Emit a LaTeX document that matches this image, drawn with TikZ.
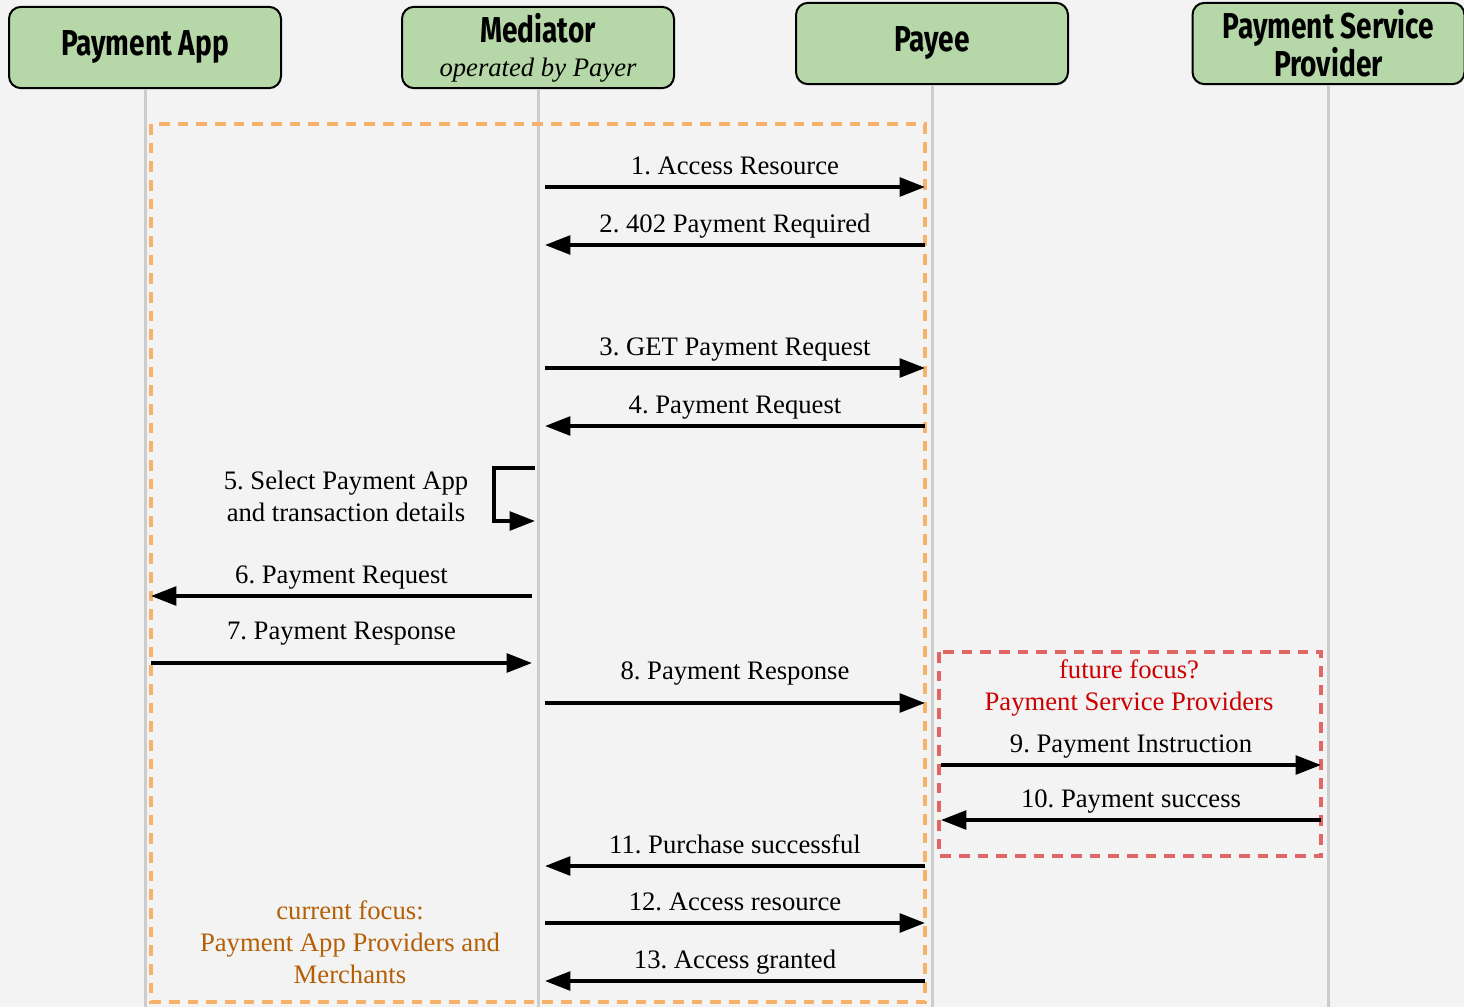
\documentclass[tikz,border=0pt]{standalone}
\usepackage{fontspec}
\usepackage{xcolor}
\setmainfont{Liberation Serif}
\newfontfamily\headfont[FakeStretch=0.78]{Fira Sans}
\usetikzlibrary{arrows.meta}
\frenchspacing

\definecolor{bggray}{HTML}{F3F3F3}
\definecolor{actorgreen}{HTML}{B6D7A8}
\definecolor{lifegray}{HTML}{CCCCCC}
\definecolor{noworange}{HTML}{F6B26B}
\definecolor{nowtext}{HTML}{B45F06}
\definecolor{laterred}{HTML}{E06666}
\definecolor{latertext}{HTML}{CC0000}

\begin{document}
\begin{tikzpicture}[x=0.75pt, y=-0.75pt,
      actor/.style={
        draw,
        line width=1.5pt,
        rounded corners=9pt,
        fill=actorgreen,
        minimum width=204pt,
        minimum height=61pt,
        align=center,
        font=\headfont\bfseries\fontsize{27}{28.5}\selectfont
      },
      lifeline/.style={
        draw=lifegray,
        line width=2.25pt
      },
      msg/.style={
        line width=2.7pt,
        -{Triangle[length=19pt, width=14pt]}
      },
      lbl/.style={
        above,
        inner sep=4pt,
        text height=13pt,
        text depth=4pt,
        font=\fontsize{20}{24}\selectfont
      },
      focus/.style={
        line width=2.7pt,
        dash pattern=on 8pt off 6pt
      },
      note/.style={
        align=center,
        font=\fontsize{20}{24}\selectfont
      }
      ]
        \useasboundingbox (0,0) rectangle (1464,1007);
        \fill[bggray] (0,0) rectangle (1464,1007);
        \coordinate (bottom) at (0,1007);

        % actors
        \node[actor] (app) at (145,47.5) {Payment App};
        \node[actor] (med) at (538,47.5) {Mediator\\[-3pt]{\normalfont\itshape\fontsize{20}{24}\selectfont operated by Payer}};
        \node[actor] (payee) at (932,43.5) {Payee};
        \node[actor] (psp) at (1328.5,43.5) {Payment Service\\Provider};

        \draw[lifeline] (app.south) -- (app.south |- bottom);
        \draw[lifeline] (med.south) -- (med.south |- bottom);
        \draw[lifeline] (payee.south) -- (payee.south |- bottom);
        \draw[lifeline] (psp.south) -- (psp.south |- bottom);

        % focus areas
        \draw[focus, noworange] (151,124) rectangle (925,1002);
        \draw[focus, laterred] (939,652) rectangle (1321,856);

        % message ends
        \foreach \n/\y in {1/187, 2/245, 3/368, 4/426, 8/703, 11/866, 12/923, 13/981} {
          \coordinate (l\n) at (545,\y);
          \coordinate (r\n) at (925,\y);
        }
        \foreach \n/\y in {6/596, 7/663} {
          \coordinate (l\n) at (151,\y);
          \coordinate (r\n) at (532,\y);
        }
        \foreach \n/\y in {9/765, 10/820} {
          \coordinate (l\n) at (941,\y);
          \coordinate (r\n) at (1321,\y);
        }
        \coordinate (s5a) at (535,468);
        \coordinate (s5b) at (535,521);

        \draw[msg] (l1) -- node[lbl] {1. Access Resource} (r1);
        \draw[msg] (r2) -- node[lbl] {2. 402 Payment Required} (l2);
        \draw[msg] (l3) -- node[lbl] {3. GET Payment Request} (r3);
        \draw[msg] (r4) -- node[lbl] {4. Payment Request} (l4);
        \draw[msg] (s5a) -- ++(-41,0) |- (s5b);
        \node[note] (sel) at (346,496) {5. Select Payment App\\and transaction details};
        \draw[msg] (r6) -- node[lbl] {6. Payment Request} (l6);
        \draw[msg] (l7) -- node[lbl, inner sep=12pt] {7. Payment Response} (r7);
        \draw[msg] (l8) -- node[lbl, inner sep=12pt] {8. Payment Response} (r8);
        \draw[msg] (l9) -- node[lbl] {9. Payment Instruction} (r9);
        \draw[msg] (r10) -- node[lbl] {10. Payment success} (l10);
        \draw[msg] (r11) -- node[lbl] {11. Purchase successful} (l11);
        \draw[msg] (l12) -- node[lbl] {12. Access resource} (r12);
        \draw[msg] (r13) -- node[lbl] {13. Access granted} (l13);

        % notes
        \node[note, text=latertext] (later) at (1129,688) {future focus?\\Payment Service Providers};
        \node[note, text=nowtext] (now) at (350,942) {current focus:\\Payment App Providers and\\Merchants};
    \end{tikzpicture}
\end{document}
